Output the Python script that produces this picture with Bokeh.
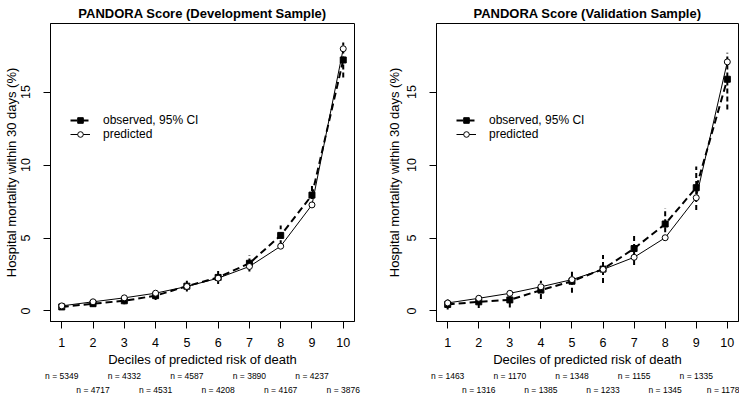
from bokeh.plotting import figure
from bokeh.models import Range1d, FixedTicker, LinearAxis, Legend, LegendItem, ColumnDataSource
from bokeh.layouts import row
from bokeh.embed import file_html
from bokeh.resources import INLINE

# ---- data ----
deciles = [1, 2, 3, 4, 5, 6, 7, 8, 9, 10]
y_ticks = [0, 5, 10, 15]

dev_obs = [0.28, 0.50, 0.70, 1.05, 1.70, 2.30, 3.27, 5.18, 7.94, 17.20]
dev_lo = [0.14, 0.30, 0.46, 0.75, 1.33, 1.85, 2.71, 4.51, 7.13, 16.00]
dev_hi = [0.42, 0.70, 0.94, 1.35, 2.07, 2.75, 3.83, 5.85, 8.75, 18.40]
dev_pred = [0.35, 0.63, 0.90, 1.22, 1.68, 2.25, 3.05, 4.44, 7.27, 17.97]
dev_n = [5349, 4717, 4332, 4531, 4587, 4208, 3890, 4167, 4237, 3876]

val_obs = [0.45, 0.63, 0.76, 1.43, 2.04, 2.87, 4.28, 5.96, 8.45, 15.88]
val_lo = [0.11, 0.20, 0.24, 0.83, 1.25, 1.92, 3.15, 4.85, 6.92, 13.80]
val_hi = [0.79, 1.06, 1.26, 2.08, 2.75, 3.83, 5.35, 7.05, 9.90, 17.70]
val_pred = [0.55, 0.87, 1.21, 1.66, 2.15, 2.85, 3.68, 5.02, 7.76, 17.07]
val_n = [1463, 1316, 1170, 1385, 1348, 1233, 1155, 1345, 1335, 1178]

FONT = "Liberation Sans"


def make_panel(title, obs, lo, hi, pred, n, border_left, border_right, fw, ylab_standoff):
    src = ColumnDataSource(dict(x=deciles, obs=obs, lo=lo, hi=hi, pred=pred))
    p = figure(frame_width=fw, frame_height=298,
               x_range=Range1d(0.64, 10.36), y_range=Range1d(-0.72, 19.7),
               output_backend="svg", toolbar_location=None,
               min_border_left=border_left, min_border_right=border_right,
               min_border_top=22, min_border_bottom=66,
               background_fill_color="white", border_fill_color="white")
    p.title.text = title
    p.title.align = "center"
    p.title.text_font = FONT
    p.title.text_font_size = "13px"
    p.title.text_font_style = "bold"
    p.title.text_color = "black"
    p.title.standoff = 6
    p.outline_line_color = "black"
    p.outline_line_width = 1
    p.xgrid.visible = False
    p.ygrid.visible = False

    # axes
    for ax in (p.xaxis[0], p.yaxis[0]):
        ax.major_tick_out = 7
        ax.major_tick_in = 0
        ax.minor_tick_line_color = None
        ax.major_tick_line_color = "black"
        ax.axis_line_color = "black"
        ax.major_label_text_font = FONT
        ax.major_label_text_font_size = "12.5px"
        ax.major_label_text_color = "black"
        ax.axis_label_text_font = FONT
        ax.axis_label_text_font_size = "13px"
        ax.axis_label_text_font_style = "normal"
        ax.axis_label_text_color = "black"
    p.xaxis[0].ticker = FixedTicker(ticks=deciles)
    p.yaxis[0].ticker = FixedTicker(ticks=y_ticks)
    p.yaxis[0].major_label_orientation = "vertical"
    p.xaxis[0].axis_label = "Deciles of predicted risk of death"
    p.yaxis[0].axis_label = "Hospital mortality within 30 days (%)"
    p.xaxis[0].major_label_standoff = 9
    p.xaxis[0].axis_label_standoff = 2
    p.yaxis[0].major_label_standoff = 13
    p.yaxis[0].axis_label_standoff = ylab_standoff

    # sample size rows
    odd = [d for d in deciles if d % 2 == 1]
    even = [d for d in deciles if d % 2 == 0]
    for ticks in (odd, even):
        ax = LinearAxis(ticker=FixedTicker(ticks=ticks),
                        major_label_overrides={d: "n = %d" % n[d - 1] for d in ticks})
        ax.axis_line_color = None
        ax.major_tick_line_color = None
        ax.minor_tick_line_color = None
        ax.major_tick_out = 0
        ax.major_tick_in = 0
        ax.major_label_standoff = 1
        ax.major_label_text_font = FONT
        ax.major_label_text_font_size = "8.5px"
        ax.major_label_text_color = "black"
        p.add_layout(ax, "below")

    # CI bars
    p.segment(x0="x", y0="lo", x1="x", y1="hi", source=src,
              line_color="black", line_width=2, line_dash="5 3")
    # observed
    l_obs = p.line("x", "obs", source=src, line_color="black", line_width=2, line_dash="7 4")
    s_obs = p.scatter("x", "obs", source=src, marker="square", size=6,
                      fill_color="black", line_color="black")
    # predicted
    l_pred = p.line("x", "pred", source=src, line_color="black", line_width=1)
    s_pred = p.scatter("x", "pred", source=src, marker="circle", size=6,
                       fill_color="white", line_color="black", line_width=1)

    legend = Legend(items=[LegendItem(label="observed, 95% CI", renderers=[l_obs, s_obs]),
                           LegendItem(label="predicted", renderers=[l_pred, s_pred])],
                    location=(20, 180))
    legend.border_line_color = None
    legend.background_fill_alpha = 0
    legend.label_text_font = FONT
    legend.label_text_font_size = "12px"
    legend.label_text_color = "black"
    legend.glyph_width = 20
    legend.glyph_height = 14
    legend.label_height = 14
    legend.label_standoff = 13
    legend.spacing = 0
    legend.padding = 0
    legend.margin = 0
    p.add_layout(legend)
    return p


p1 = make_panel("PANDORA Score (Development Sample)", dev_obs, dev_lo, dev_hi, dev_pred, dev_n,
                46, 17, 304, 0)
p2 = make_panel("PANDORA Score (Validation Sample)", val_obs, val_lo, val_hi, val_pred, val_n,
                65, 1, 302, 3)

layout = row(p1, p2)
open("out.html", "w").write(file_html(layout, INLINE))
